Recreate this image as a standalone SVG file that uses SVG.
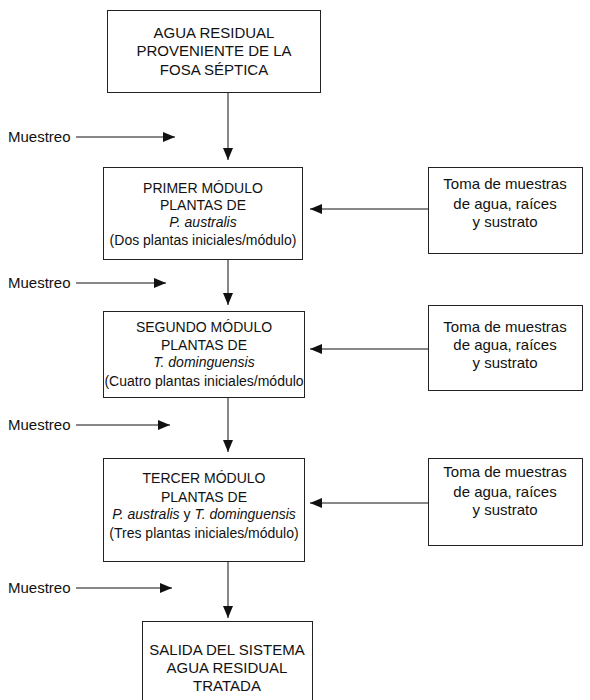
<svg xmlns="http://www.w3.org/2000/svg" width="590" height="700" viewBox="0 0 590 700">
<defs>
<style>
.box{fill:#fff;stroke:#222;stroke-width:1}
.t{font-family:"Liberation Sans",Arial,sans-serif;font-size:15px;fill:#111;text-anchor:middle}
.m{font-size:14px}
.l{font-family:"Liberation Sans",Arial,sans-serif;font-size:15px;fill:#111}
.i{font-style:italic}
.c{stroke:#111;stroke-width:1;fill:none}
</style>
<marker id="ah" viewBox="0 0 12 10" refX="12" refY="5" markerWidth="12" markerHeight="10" markerUnits="userSpaceOnUse" orient="auto">
<path d="M0,0 L12,5 L0,10 Z" fill="#111"/>
</marker>
</defs>
<rect width="590" height="700" fill="#fff"/>
<g id="connectors">
<line class="c" x1="228" y1="92" x2="228" y2="160" marker-end="url(#ah)"/>
<line class="c" x1="228" y1="259" x2="228" y2="305" marker-end="url(#ah)"/>
<line class="c" x1="228" y1="397" x2="228" y2="452" marker-end="url(#ah)"/>
<line class="c" x1="228" y1="561" x2="228" y2="618" marker-end="url(#ah)"/>
<line class="c" x1="76" y1="137" x2="175" y2="137" marker-end="url(#ah)"/>
<line class="c" x1="76" y1="283" x2="166" y2="283" marker-end="url(#ah)"/>
<line class="c" x1="76" y1="425" x2="170" y2="425" marker-end="url(#ah)"/>
<line class="c" x1="76" y1="588" x2="172" y2="588" marker-end="url(#ah)"/>
<line class="c" x1="428" y1="209" x2="310" y2="209" marker-end="url(#ah)"/>
<line class="c" x1="428" y1="349" x2="310" y2="349" marker-end="url(#ah)"/>
<line class="c" x1="428" y1="503" x2="310" y2="503" marker-end="url(#ah)"/>
</g>
<g id="muestreo1"><text class="l" x="8" y="142">Muestreo</text></g>
<g id="muestreo2"><text class="l" x="8" y="288">Muestreo</text></g>
<g id="muestreo3"><text class="l" x="8" y="430">Muestreo</text></g>
<g id="muestreo4"><text class="l" x="8" y="593">Muestreo</text></g>
<g id="entrada">
<rect class="box" x="107.5" y="10.5" width="213" height="82"/>
<text class="t" x="214" y="38">AGUA RESIDUAL</text>
<text class="t" x="214" y="56">PROVENIENTE DE LA</text>
<text class="t" x="214" y="75">FOSA SÉPTICA</text>
</g>
<g id="modulo1">
<rect class="box" x="103.5" y="167.5" width="199" height="92"/>
<text class="t m" x="203" y="193">PRIMER MÓDULO</text>
<text class="t m" x="203" y="210">PLANTAS DE</text>
<text class="t m i" x="203" y="227">P. australis</text>
<text class="t m" x="203" y="245">(Dos plantas iniciales/módulo)</text>
</g>
<g id="modulo2">
<rect class="box" x="103.5" y="311.5" width="201" height="86"/>
<text class="t m" x="204" y="332">SEGUNDO MÓDULO</text>
<text class="t m" x="204" y="350">PLANTAS DE</text>
<text class="t m i" x="204" y="367">T. dominguensis</text>
<text class="t m" x="204" y="386">(Cuatro plantas iniciales/módulo</text>
</g>
<g id="modulo3">
<rect class="box" x="103.5" y="458.5" width="201" height="103"/>
<text class="t m" x="204" y="483">TERCER MÓDULO</text>
<text class="t m" x="204" y="502">PLANTAS DE</text>
<text class="t m" x="204" y="519"><tspan class="i">P. australis</tspan> y <tspan class="i">T. dominguensis</tspan></text>
<text class="t m" x="204" y="538">(Tres plantas iniciales/módulo)</text>
</g>
<g id="salida">
<rect class="box" x="142.5" y="621.5" width="170" height="90"/>
<text class="t" x="227" y="655">SALIDA DEL SISTEMA</text>
<text class="t" x="227" y="673">AGUA RESIDUAL</text>
<text class="t" x="227" y="691">TRATADA</text>
</g>
<g id="toma1">
<rect class="box" x="428.5" y="167.5" width="154" height="86"/>
<text class="t" x="505" y="189">Toma de muestras</text>
<text class="t" x="505" y="209">de agua, raíces</text>
<text class="t" x="505" y="227">y sustrato</text>
</g>
<g id="toma2">
<rect class="box" x="428.5" y="305.5" width="154" height="85"/>
<text class="t" x="505" y="332">Toma de muestras</text>
<text class="t" x="505" y="350">de agua, raíces</text>
<text class="t" x="505" y="368">y sustrato</text>
</g>
<g id="toma3">
<rect class="box" x="428.5" y="458.5" width="154" height="87"/>
<text class="t" x="505" y="477">Toma de muestras</text>
<text class="t" x="505" y="497">de agua, raíces</text>
<text class="t" x="505" y="515">y sustrato</text>
</g>
</svg>
